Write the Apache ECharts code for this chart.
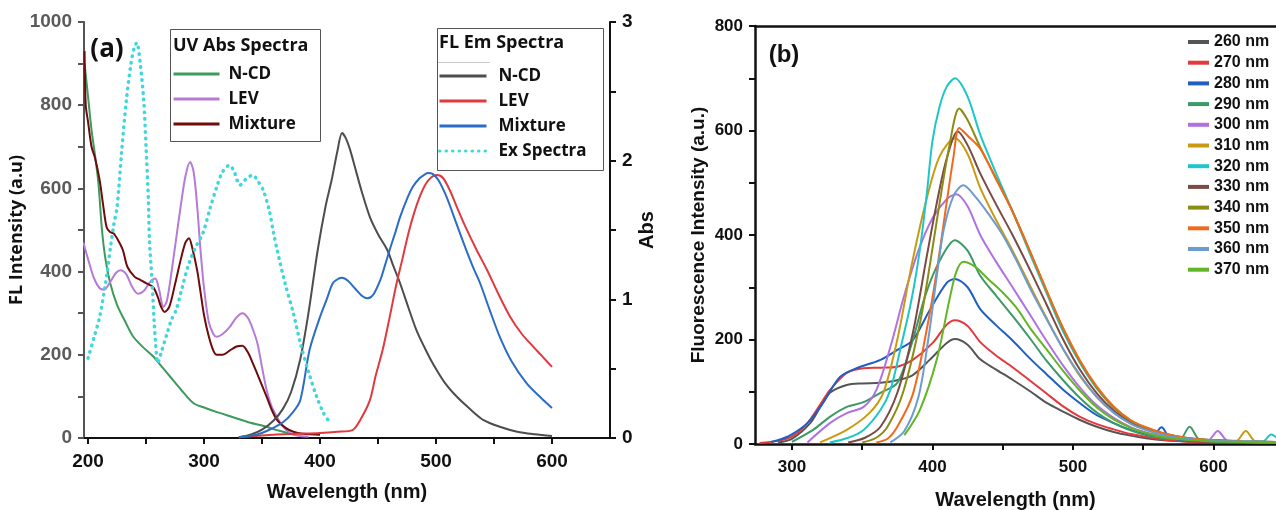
<!DOCTYPE html>
<html><head><meta charset="utf-8">
<script src="https://cdn.jsdelivr.net/npm/echarts@6/dist/echarts.min.js"></script>
<style>html,body{margin:0;padding:0;background:#fff}#c{width:1276px;height:510px}</style>
</head><body><div id="c"></div>
<script>
// ---------- Panel (a) data ----------
// UV absorbance (Abs, right axis): [wavelength nm, Abs]
const uvNCD = [[197,2.70],[200,2.46],[203,2.22],[206,2.04],[209,1.83],[212,1.50],[215,1.29],[219,1.12],[225,0.96],[232,0.84],[239,0.73],[248,0.65],[256,0.59],[263,0.52],[271,0.44],[280,0.35],[291,0.25],[300,0.22],[310,0.19],[325,0.15],[340,0.11],[350,0.09],[363,0.057],[372,0.036],[380,0.024]];
const uvLEV = [[196,1.41],[200,1.29],[205,1.155],[210,1.08],[214,1.07],[219,1.125],[224,1.19],[228,1.21],[233,1.18],[238,1.09],[243,1.04],[248,1.06],[253,1.12],[258,1.15],[261,1.08],[265,0.945],[268,0.99],[272,1.20],[276,1.44],[280,1.68],[284,1.89],[288,1.99],[291,1.92],[294,1.68],[297,1.35],[300,1.08],[304,0.84],[308,0.75],[311,0.73],[316,0.75],[322,0.80],[328,0.87],[333,0.90],[338,0.864],[342,0.786],[346,0.684],[350,0.51],[354,0.345],[358,0.234],[363,0.15],[368,0.084],[374,0.036],[380,0.018],[390,0.009]];
const uvMix = [[197,2.79],[198,2.40],[200,2.28],[203,2.10],[206,2.02],[210,1.86],[213,1.68],[216,1.52],[219,1.485],[222,1.476],[226,1.425],[230,1.356],[234,1.233],[240,1.164],[245,1.14],[250,1.116],[256,1.089],[260,1.02],[263,0.945],[266,0.909],[270,0.945],[275,1.11],[280,1.29],[284,1.41],[287,1.44],[290,1.365],[294,1.212],[297,1.05],[300,0.885],[304,0.735],[308,0.63],[311,0.60],[316,0.60],[322,0.63],[328,0.66],[333,0.666],[338,0.615],[342,0.54],[348,0.42],[354,0.297],[358,0.21],[363,0.129],[370,0.075],[377,0.045],[385,0.03],[400,0.024]];
// Fluorescence (left axis): [wavelength nm, intensity a.u]
const flNCD = [[330,2],[340,8],[350,20],[360,42],[368,70],[375,110],[383,190],[390,300],[398,452],[405,560],[410,620],[415,690],[419,733],[422,722],[426,692],[430,652],[436,592],[443,531],[450,490],[458,452],[463,415],[469,372],[476,315],[483,260],[490,218],[497,180],[507,135],[518,99],[530,68],[541,43],[555,27],[570,15],[585,9],[600,5]];
const flLEV = [[330,2],[345,5],[360,8],[380,10],[400,12],[415,15],[428,19],[435,45],[443,91],[448,150],[454,212],[460,290],[466,372],[471,430],[476,490],[481,540],[486,580],[491,610],[496,627],[501,632],[506,625],[512,595],[518,555],[525,510],[535,452],[544,404],[554,345],[564,291],[574,250],[584,219],[592,195],[600,171]];
const flMix = [[330,2],[345,8],[355,18],[368,38],[376,60],[383,91],[391,212],[400,291],[406,335],[411,372],[416,383],[419,385],[424,378],[430,360],[436,342],[441,336],[446,345],[452,380],[456,415],[460,452],[465,495],[469,531],[475,575],[480,604],[486,625],[490,633],[493,637],[497,635],[502,620],[509,580],[517,520],[526,452],[532,410],[538,372],[546,310],[555,243],[565,185],[578,132],[590,98],[600,72]];
const exSpec = [[200,192],[205,240],[210,291],[215,370],[219,452],[222,510],[225,555],[229,690],[233,812],[237,900],[240,940],[242,950],[245,900],[248,812],[250,700],[252,572],[253,470],[255,387],[257,280],[259,200],[260,180],[263,205],[268,250],[272,285],[276,308],[281,360],[287,420],[293,460],[299,492],[305,550],[311,604],[316,640],[322,656],[326,640],[331,608],[336,622],[342,632],[347,615],[351,596],[356,550],[360,492],[363,452],[370,370],[377,300],[383,228],[390,160],[397,100],[403,60],[407,43]];

const aXLabels = [200,300,400,500,600];
const aXTicks = [200,250,300,350,400,450,500,550,600];
const aYTicks = [0,100,200,300,400,500,600,700,800,900,1000];
const aAbsTicks = [0,0.5,1,1.5,2,2.5,3];

// ---------- Panel (b) data ----------
const bNames = ['260 nm','270 nm','280 nm','290 nm','300 nm','310 nm','320 nm','330 nm','340 nm','350 nm','360 nm','370 nm'];
const ex260 = [[290,3],[300,10],[313,40],[320,70],[327,98],[339,113],[350,116],[363,117],[375,122],[386,132],[398,161],[410,193],[416,201],[425,190],[434,162],[445,143],[457,123],[470,100],[481,79],[493,62],[505,46],[517,33],[529,23],[541,16],[552,11],[565,7],[580,5],[600,3],[620,3],[645,2]];
const ex270 = [[277,2],[290,6],[300,14],[311,40],[320,75],[327,103],[339,136],[351,145],[363,146],[375,148],[386,161],[400,193],[410,228],[416,237],[425,226],[434,195],[445,170],[457,147],[470,120],[481,97],[493,72],[505,52],[517,38],[529,28],[541,19],[552,14],[565,8],[580,5],[600,4],[620,3],[645,3]];
const ex280 = [[285,4],[291,8],[299,17],[311,40],[322,78],[334,128],[346,145],[363,161],[375,180],[386,199],[398,256],[410,308],[416,316],[425,300],[434,258],[445,228],[457,198],[470,162],[481,134],[493,104],[505,78],[517,55],[529,40],[541,27],[552,18],[557,16],[563,32],[569,12],[580,7],[600,5],[620,4],[645,3]];
const ex290 = [[300,4],[315,27],[327,52],[339,71],[351,80],[363,98],[375,117],[385,190],[395,285],[405,350],[416,390],[425,370],[434,322],[445,285],[457,245],[470,200],[481,160],[493,122],[505,88],[517,60],[529,40],[541,26],[552,17],[565,11],[576,9],[583,33],[590,8],[600,5],[620,4],[645,3]];
const ex300 = [[311,3],[327,40],[339,59],[351,71],[360,103],[370,185],[380,285],[390,370],[400,432],[410,468],[417,478],[425,455],[434,400],[445,350],[457,300],[470,245],[481,198],[493,150],[505,108],[517,74],[529,50],[541,32],[552,22],[565,14],[580,9],[596,7],[603,25],[610,6],[620,4],[645,3]];
const ex310 = [[320,3],[339,27],[355,59],[365,98],[375,200],[385,340],[395,460],[405,550],[416,585],[425,555],[434,490],[445,430],[457,370],[470,300],[481,242],[493,182],[505,130],[517,90],[529,60],[541,39],[552,27],[565,17],[580,10],[600,7],[616,6],[623,25],[630,5],[645,4]];
const ex320 = [[327,3],[340,12],[351,27],[363,65],[370,103],[377,180],[385,275],[391,371],[396,480],[400,580],[405,645],[410,683],[416,700],[425,665],[434,592],[445,520],[457,445],[470,360],[481,290],[493,215],[505,155],[517,106],[529,70],[541,45],[552,31],[565,19],[580,12],[600,7],[620,5],[635,5],[641,18],[645,12]];
const ex330 = [[340,3],[352,12],[363,33],[375,98],[386,212],[396,360],[403,460],[410,545],[418,598],[425,572],[434,518],[445,460],[457,400],[470,330],[481,268],[493,200],[505,142],[517,97],[529,64],[541,41],[552,28],[565,18],[580,11],[600,7],[620,5],[645,4]];
const ex340 = [[350,3],[360,12],[368,33],[379,98],[391,230],[398,340],[405,460],[412,570],[419,642],[425,620],[434,568],[445,510],[457,445],[470,365],[481,295],[493,220],[505,158],[517,108],[529,70],[541,45],[552,31],[565,20],[580,12],[600,7],[620,5],[645,4]];
const ex350 = [[360,3],[368,10],[375,33],[386,95],[396,220],[403,330],[410,460],[415,550],[419,605],[425,590],[434,565],[445,508],[457,445],[470,365],[481,295],[493,222],[505,160],[517,110],[529,72],[541,46],[552,32],[565,20],[580,12],[600,7],[620,5],[645,4]];
const ex360 = [[370,3],[380,25],[390,90],[397,200],[403,320],[408,410],[415,475],[422,495],[430,475],[440,440],[450,400],[460,350],[470,295],[481,240],[493,182],[505,132],[517,90],[529,60],[541,39],[552,27],[565,17],[580,10],[600,6],[620,5],[645,4]];
const ex370 = [[380,17],[391,65],[403,161],[412,275],[417,330],[422,349],[430,340],[440,315],[450,290],[460,260],[470,220],[481,182],[493,140],[505,102],[517,70],[529,47],[541,31],[552,21],[565,13],[580,8],[600,5],[620,4],[645,3]];
const bSeriesData = [ex260,ex270,ex280,ex290,ex300,ex310,ex320,ex330,ex340,ex350,ex360,ex370];
const bColors = ['#555555','#e3393d','#1f5fc4','#3c9a68','#b072e0','#c99a12','#1fc6c9','#7b4a44','#8c8c14','#f06a1c','#6c9bd2','#62b526'];
const bXLabels = [300,400,500,600];
const bXTicks = [300,350,400,450,500,550,600];
const bYTicks = [0,100,200,300,400,500,600,700,800];

// ---------- chart ----------
const tickFont = {fontFamily:'Liberation Sans, Arial, sans-serif', fontWeight:'bold'};
const chart = echarts.init(document.getElementById('c'));

function lineSeries(name, data, color, xi, yi, extra) {
  return Object.assign({
    type:'line', name, data, xAxisIndex:xi, yAxisIndex:yi,
    symbol:'none', showSymbol:false, smooth:0.3, animation:false,
    lineStyle:{color, width:2}, itemStyle:{color}
  }, extra || {});
}

const series = [
  lineSeries('UV|N-CD', uvNCD, '#3d9a5c', 0, 1),
  lineSeries('UV|LEV', uvLEV, '#b57bd6', 0, 1),
  lineSeries('UV|Mixture', uvMix, '#6e0b0b', 0, 1),
  lineSeries('FL|N-CD', flNCD, '#4d4d4d', 0, 0),
  lineSeries('FL|LEV', flLEV, '#e0393e', 0, 0),
  lineSeries('FL|Mixture', flMix, '#2b6cc4', 0, 0),
  lineSeries('FL|Ex Spectra', exSpec, '#3fd6dc', 0, 0, {lineStyle:{color:'#3fd6dc', width:3.5, type:[0.5,6], cap:'round'}})
];
bSeriesData.forEach((d,i) => series.push(lineSeries(bNames[i], d, bColors[i], 2, 2)));

const legText = {fontFamily:'Open Sans, sans-serif', fontWeight:'bold', fontSize:17, color:'#111', lineHeight:20};
const plain = v => String(v);

chart.setOption({
  animation:false,
  backgroundColor:'#fff',
  grid:[{left:84, top:22, width:526, height:416, outerBoundsMode:'none'},
        {left:755, top:26, width:521, height:418, outerBoundsMode:'none'}],
  xAxis:[
    {type:'value', gridIndex:0, min:196.5, max:650, position:'bottom',
     axisLine:{lineStyle:{color:'#111', width:2}},
     axisTick:{show:true, customValues:aXTicks, length:6, lineStyle:{color:'#111', width:2}},
     axisLabel:Object.assign({customValues:aXLabels, margin:14, color:'#111', fontSize:19, formatter:plain}, tickFont),
     splitLine:{show:false},
     name:'Wavelength (nm)', nameLocation:'middle', nameGap:44,
     nameTextStyle:Object.assign({fontSize:20, color:'#111'}, tickFont)},
    {type:'value', gridIndex:0, min:196.5, max:650, position:'top',
     axisLine:{lineStyle:{color:'#111', width:2}}, axisTick:{show:false}, axisLabel:{show:false}, splitLine:{show:false}},
    {type:'value', gridIndex:1, min:273.7, max:644.5, position:'bottom',
     axisLine:{lineStyle:{color:'#111', width:2.5}},
     axisTick:{show:true, customValues:bXTicks, length:6, lineStyle:{color:'#111', width:2}},
     axisLabel:Object.assign({customValues:bXLabels, margin:15, color:'#111', fontSize:17, formatter:plain}, tickFont),
     splitLine:{show:false},
     name:'Wavelength (nm)', nameLocation:'middle', nameGap:46,
     nameTextStyle:Object.assign({fontSize:20, color:'#111'}, tickFont)},
    {type:'value', gridIndex:1, min:273.7, max:644.5, position:'top',
     axisLine:{lineStyle:{color:'#111', width:2.5}}, axisTick:{show:false}, axisLabel:{show:false}, splitLine:{show:false}}
  ],
  yAxis:[
    {type:'value', gridIndex:0, min:0, max:1000, interval:200, position:'left',
     axisLine:{show:true, lineStyle:{color:'#555', width:2}},
     axisTick:{show:true, customValues:aYTicks, length:6, lineStyle:{color:'#555', width:2}},
     axisLabel:Object.assign({margin:12, color:'#5a5a5a', fontSize:19, formatter:plain}, tickFont),
     splitLine:{show:false},
     name:'FL Intensity (a.u)', nameLocation:'middle', nameGap:47, nameRotate:90,
     nameTextStyle:{fontFamily:'Open Sans, sans-serif', fontWeight:'bold', fontSize:18, color:'#111'}},
    {type:'value', gridIndex:0, min:0, max:3, interval:1, position:'right',
     axisLine:{show:true, lineStyle:{color:'#111', width:2}},
     axisTick:{show:true, customValues:aAbsTicks, length:6, lineStyle:{color:'#111', width:2}},
     axisLabel:Object.assign({margin:12, color:'#111', fontSize:19, formatter:plain}, tickFont),
     splitLine:{show:false},
     name:'Abs', nameLocation:'middle', nameGap:27, nameRotate:90,
     nameTextStyle:Object.assign({fontSize:20, color:'#111'}, tickFont)},
    {type:'value', gridIndex:1, min:0, max:800, interval:200, position:'left',
     axisLine:{show:true, lineStyle:{color:'#111', width:2.5}},
     axisTick:{show:true, customValues:bYTicks, length:6, lineStyle:{color:'#111', width:2}},
     axisLabel:Object.assign({margin:12, color:'#111', fontSize:17, formatter:plain}, tickFont),
     splitLine:{show:false},
     name:'Fluorescence Intensity (a.u.)', nameLocation:'middle', nameGap:47, nameRotate:90,
     nameTextStyle:Object.assign({fontSize:19, color:'#111'}, tickFont)}
  ],
  legend:[
    {orient:'vertical', left:172, top:64, padding:0, itemWidth:46, itemHeight:20, itemGap:5,
     selectedMode:false, data:['UV|N-CD','UV|LEV','UV|Mixture'], itemStyle:{opacity:0}, lineStyle:{width:3},
     formatter:n => n.split('|')[1], textStyle:Object.assign({padding:[0,0,0,4]}, legText)},
    {orient:'vertical', left:438, top:66, padding:0, itemWidth:47, itemHeight:20, itemGap:5,
     selectedMode:false, data:['FL|N-CD','FL|LEV','FL|Mixture','FL|Ex Spectra'], itemStyle:{opacity:0}, lineStyle:{width:3},
     formatter:n => n.split('|')[1], textStyle:Object.assign({padding:[0,0,0,7]}, legText)},
    {orient:'vertical', left:1186, top:33, padding:0, itemWidth:21, itemHeight:18, itemGap:2.7,
     selectedMode:false, data:bNames, lineStyle:{width:4}, itemStyle:{opacity:0},
     textStyle:Object.assign({fontSize:16, color:'#111', lineHeight:18}, tickFont)}
  ],
  graphic:[
    {type:'rect', z:3, shape:{x:170.5, y:29.5, width:150, height:112}, style:{fill:'#fff', stroke:'#555', lineWidth:1}},
    {type:'rect', z:3, shape:{x:437.5, y:28.5, width:166, height:142}, style:{fill:'#fff', stroke:'#555', lineWidth:1}},
    {type:'line', z:3, shape:{x1:438, y1:62.5, x2:490, y2:62.5}, style:{stroke:'#c8c8c8', lineWidth:1}},
    {type:'text', z:5, style:{text:'UV Abs Spectra', x:173, y:46, textAlign:'left', textVerticalAlign:'middle', font:'bold 18px "Open Sans", sans-serif', fill:'#111'}},
    {type:'text', z:5, style:{text:'FL Em Spectra', x:439, y:43, textAlign:'left', textVerticalAlign:'middle', font:'bold 18px "Open Sans", sans-serif', fill:'#111'}},
    {type:'text', z:5, style:{text:'(a)', x:107, y:50, textAlign:'center', textVerticalAlign:'middle', font:'bold 26px "Open Sans", sans-serif', fill:'#111'}},
    {type:'text', z:5, style:{text:'(b)', x:784, y:55, textAlign:'center', textVerticalAlign:'middle', font:'bold 24px "Liberation Sans", Arial, sans-serif', fill:'#111'}}
  ],
  series
});
</script></body></html>
